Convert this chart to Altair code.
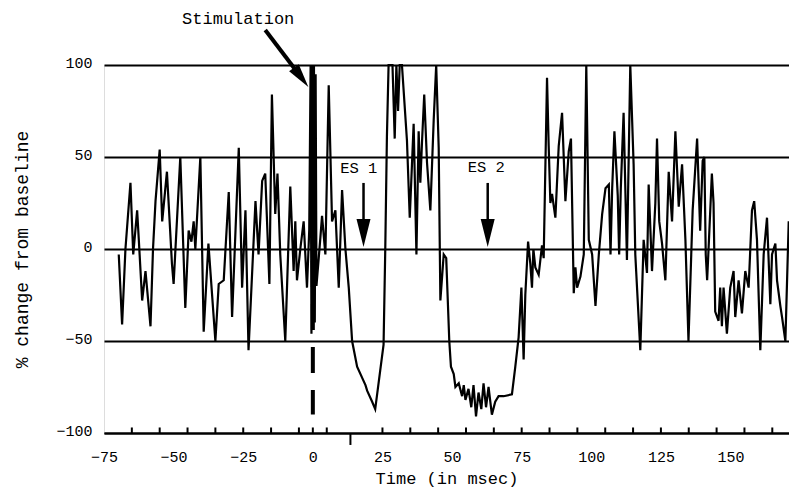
import altair as alt
import pandas as pd

# ---- data ----
time_ms = [
    -69.7, -68.5, -67.3, -65.5, -64.5, -63.1, -62.5, -61.3, -60.1, -58.3, -57.4, -56.5,
    -55.0, -54.1, -52.4, -50.6, -50.0, -47.6, -45.8, -44.6, -43.6, -42.8, -42.2,
    -40.4, -39.2, -37.5, -35.0, -33.8, -32.0, -30.2, -29.0, -26.6, -25.4, -24.2, -23.1,
    -20.6, -19.5, -18.2, -17.1, -15.6, -14.7, -13.5, -12.7, -11.7,
    -9.9, -8.1, -6.9, -6.3, -5.7, -4.5, -3.3, -2.1, -1.3,
    -0.8, -0.5, -0.2, 0.1, 0.4, 0.7, 1.0, 1.3,
    2.7, 3.3, 4.5, 5.7, 6.9, 8.1, 9.3, 10.5, 11.7, 12.9, 14.1, 15.9, 18.9, 19.5, 21.3,
    22.4, 24.2, 25.4, 26.0, 26.6, 27.2, 27.8, 28.6, 29.4, 30.0, 30.6, 31.2, 32.0,
    33.8, 34.8, 35.6, 36.2, 37.2, 38.0, 38.6, 39.2, 40.0, 41.0, 42.2, 43.4, 44.3,
    45.2, 45.8, 47.0, 47.9, 49.0, 49.6, 50.6, 51.2, 52.4, 53.6, 54.2, 54.8, 55.9,
    56.9, 57.7, 58.6, 59.5, 60.5, 61.3, 62.2, 63.1, 64.3, 65.5, 66.7, 68.5, 71.5,
    72.7, 73.9, 74.9, 75.7, 76.3, 77.3, 78.1, 78.7, 79.2, 79.9, 81.1, 82.3, 82.9,
    84.1, 84.7, 85.3, 85.9, 87.1, 88.3, 89.5, 90.7, 91.9, 92.7, 93.7, 94.3, 94.9,
    96.1, 97.3, 98.2, 99.1, 100.3, 101.5, 102.7, 103.9, 105.1, 106.3, 106.9, 107.5,
    108.3, 109.5, 110.0, 110.6, 111.6, 112.8, 114.0, 115.2, 115.8, 117.6, 118.8,
    120.0, 120.6, 121.8, 123.0, 123.6, 124.4, 125.4, 126.6, 127.8, 129.0, 130.2,
    131.4, 132.6, 133.8, 134.9, 136.4, 138.0, 139.1, 140.0, 140.6, 141.1, 141.6,
    142.2, 143.3, 143.9, 144.5, 145.7, 146.3, 146.9, 147.5, 148.7, 149.9, 151.1,
    151.7, 152.9, 154.1, 155.3, 156.5, 157.7, 158.5, 159.5, 160.7, 161.9, 163.1,
    164.3, 164.9, 166.1, 166.7, 167.9, 168.5, 169.7, 170.9, 172.1, 173.3, 173.9,
]
pct_change = [
    -3, -41, 0, 36, -3, 21, 5, -28, -12, -42, 0, 26,
    54, 15, 42, -8, -19, 50, -32, 10, 4, 15, 0,
    50, -45, 3, -50, -19, -17, 31, -37, 55, -21, 21, -55,
    26, -3, 37, 41, -19, 84, 19, 41, -3,
    -50, 34, -12, 15, -17, 0, 15, -21, 10,
    100, -46, 100, -30, 100, -40, 95, -20,
    6, 18, -3, 89, 15, 21, -21, 32, 0, -21, -50, -64, -74, -77, -83,
    -87, -66, -52, -1, 61, 100, 100, 100, 60, 100, 75, 100, 100,
    59, 17, 46, 68, -3, 64, 36, 58, 84, 47, 21, 70, 100,
    55, -28, -3, -5, -50, -64, -68, -75, -73, -80, -74, -82, -76,
    -86, -74, -91, -78, -87, -73, -86, -75, -90, -83, -80, -80, -79,
    -64, -48, -21, -60, -25, 4, -8, -21, 0, -10, -14, 2, -5,
    93, 56, 25, 30, 17, 56, 74, 26, 53, 60, -24, -10, -21,
    -15, -3, 100, 5, -3, -31, -3, 19, 33, 35, -3, 33,
    64, 29, -3, 33, 74, -6, 100, 46, -3, -55, 5,
    -13, 35, -12, 25, 60, 15, 3, -17, 42, 15, 64,
    23, 46, 5, -50, 21, 60, 10, 48, 50, -3, -17,
    3, 41, 25, -34, -39, -21, -42, -21, -46, -21, -12,
    -37, -17, -35, -12, -21, 21, 26, 5, -55, -3, 17,
    -30, -3, 3, -17, -31, -37, -50, 15, 8, -3, 15,
]

x_label_values = [-75, -50, -25, 0, 25, 50, 75, 100, 125, 150]
y_label_values = [-100, -50, 0, 50, 100]
minor_tick_values = [-65, -55, -45, -35, -25, -15, -5, 0, 5, 25, 35, 45, 55, 65,
                     75, 85, 95, 105, 115, 125, 135, 145, 155, 165]
long_tick_values = [13.5]

label_text = ["Stimulation", "ES 1", "ES 2"]
label_x = [-26.8, 16.5, 62.3]
label_y = [125.0, 44.0, 44.3]
label_size = [17, 15.5, 15.5]

arrow_x = [-17.1, 18.2, 62.8]
arrow_y = [119.0, 35.9, 35.9]
arrow_x2 = [-4.2, 18.2, 62.8]
arrow_y2 = [93.3, 8.7, 8.7]
arrow_width = [4, 2.5, 2.5]
head_angle = [323, 0, 0]
head_size = [576, 784, 784]

FONT = "Liberation Mono"

line_df = pd.DataFrame({"t": time_ms, "v": pct_change})
minor_df = pd.DataFrame({"t": minor_tick_values})
long_df = pd.DataFrame({"t": long_tick_values})
label_df = pd.DataFrame({"text": label_text, "x": label_x, "y": label_y, "size": label_size})
arrow_df = pd.DataFrame({"x": arrow_x, "y": arrow_y, "x2": arrow_x2, "y2": arrow_y2,
                         "w": arrow_width, "angle": head_angle, "hs": head_size})

xs = alt.Scale(domain=[-75, 171], nice=False, zero=False)
ys = alt.Scale(domain=[-100, 100], nice=False, zero=False)

base_line = alt.Chart(line_df).mark_line(color="black", strokeWidth=2.2).encode(
    x=alt.X("t:Q", scale=xs, axis=alt.Axis(
        values=x_label_values, title="Time (in msec)", grid=False, ticks=False,
        tickSize=0, domain=True, domainColor="black", domainWidth=2,
        labelFont=FONT, labelFontSize=15, labelColor="black", labelPadding=16,
        titleFont=FONT, titleFontSize=17, titleFontWeight="normal", titleColor="black",
        titleBaseline="alphabetic", titleY=50, labelFlush=False)),
    y=alt.Y("v:Q", scale=ys, axis=alt.Axis(
        values=y_label_values, title="% change from baseline", grid=True,
        gridColor="black", gridWidth=2, gridOpacity=1, ticks=False, tickSize=0,
        domain=False, labelFont=FONT, labelFontSize=15, labelColor="black",
        labelPadding=12, labelOffset=-3,
        titleFont=FONT, titleFontSize=18, titleFontWeight="normal", titleColor="black",
        titleX=-82, titleBaseline="middle")),
)

minor_ticks = alt.Chart(minor_df).mark_rule(color="black", strokeWidth=2).encode(
    x=alt.X("t:Q", scale=xs),
    y=alt.datum(-100, scale=ys),
    y2=alt.datum(-97),
)
long_tick = alt.Chart(long_df).mark_rule(color="black", strokeWidth=2).encode(
    x=alt.X("t:Q", scale=xs),
    y=alt.datum(-100, scale=ys),
    y2=alt.datum(-106.5),
)

stim_line = alt.Chart(pd.DataFrame({"t": [0]})).mark_rule(
    color="black", strokeWidth=4, strokeDash=[26, 17], strokeDashOffset=19).encode(
    x=alt.X("t:Q", scale=xs),
    y=alt.datum(100, scale=ys),
    y2=alt.datum(-90),
)

labels = alt.Chart(label_df).mark_text(
    font=FONT, color="black", align="center", baseline="middle").encode(
    x=alt.X("x:Q", scale=xs),
    y=alt.Y("y:Q", scale=ys),
    text="text:N",
    size=alt.Size("size:Q", scale=None, legend=None),
)

shafts = alt.Chart(arrow_df).mark_rule(color="black").encode(
    x=alt.X("x:Q", scale=xs), y=alt.Y("y:Q", scale=ys),
    x2="x2:Q", y2="y2:Q",
    strokeWidth=alt.StrokeWidth("w:Q", scale=None, legend=None),
)

heads = alt.Chart(arrow_df).mark_point(
    shape="M-0.5,-1L0.5,-1L0,1Z", filled=True, color="black", opacity=1, strokeWidth=0).encode(
    x=alt.X("x2:Q", scale=xs), y=alt.Y("y2:Q", scale=ys),
    angle=alt.Angle("angle:Q", scale=None),
    size=alt.Size("hs:Q", scale=None, legend=None),
)

chart = alt.layer(base_line, minor_ticks, long_tick, stim_line, shafts, heads, labels).properties(
    width=685, height=368,
    autosize=alt.AutoSizeParams(type="none"),
    padding={"left": 96, "top": 57, "right": 0, "bottom": 57},
).configure_view(stroke=None).configure(background="white")

chart.save("out.html", embed_options={"renderer": "svg", "actions": False})
